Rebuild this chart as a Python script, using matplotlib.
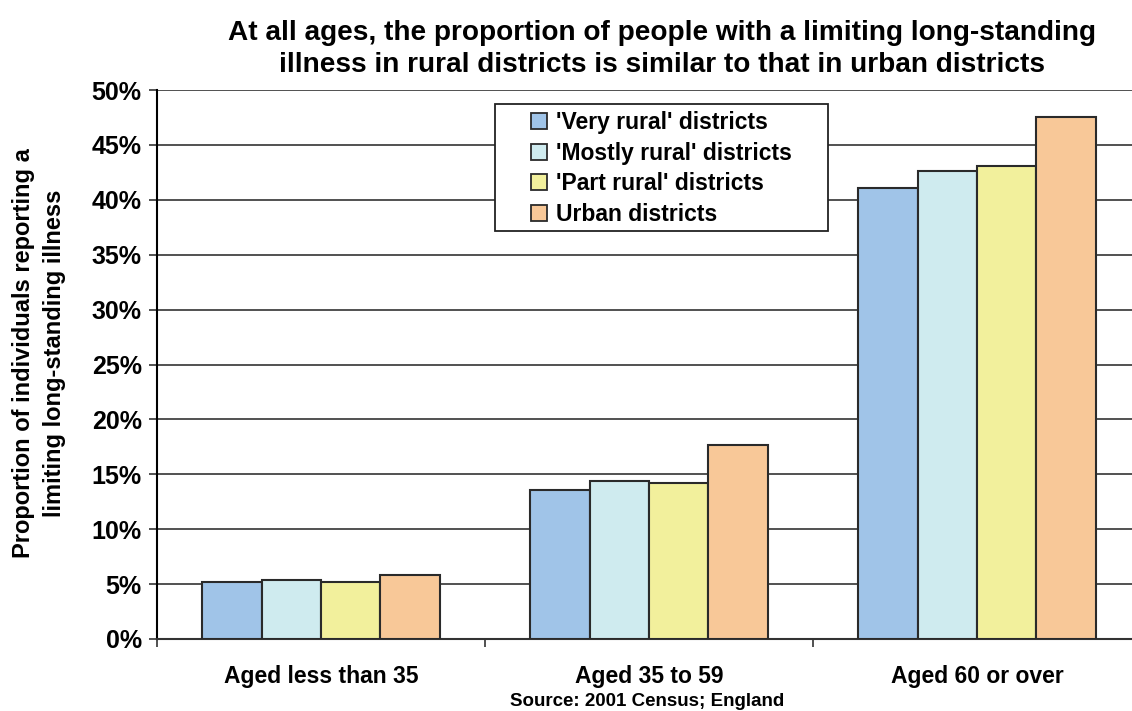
import matplotlib
matplotlib.use("Agg")
import matplotlib.pyplot as plt
from matplotlib.patches import Rectangle
import numpy as np

categories = ["Aged less than 35", "Aged 35 to 59", "Aged 60 or over"]
series_names = ["'Very rural' districts", "'Mostly rural' districts",
                "'Part rural' districts", "Urban districts"]
very_rural = [5.2, 13.6, 41.1]
mostly_rural = [5.4, 14.4, 42.6]
part_rural = [5.2, 14.2, 43.1]
urban = [5.8, 17.65, 47.5]
yticks = [0, 5, 10, 15, 20, 25, 30, 35, 40, 45, 50]
ytick_labels = [f"{v}%" for v in yticks]
colors = ["#A0C4E8", "#CFEBEF", "#F2F09C", "#F8C898"]

plt.rcParams['font.family'] = ['Liberation Sans', 'DejaVu Sans']
W, H = 1132, 711
fig = plt.figure(figsize=(W/100, H/100), dpi=100)
left, right, top, bottom = 157, 1141, 90, 639
ax = fig.add_axes([left/W, 1-bottom/H, (right-left)/W, (bottom-top)/H])

x = np.arange(len(categories))
bw = 0.181
data = [very_rural, mostly_rural, part_rural, urban]
for i, (vals, name, c) in enumerate(zip(data, series_names, colors)):
    ax.bar(x + (i-1.5)*bw, vals, bw, color=c, edgecolor="#2a2a2a",
           linewidth=1.5, label=name, zorder=3)

ax.set_xlim(-0.5, 2.5)
ax.set_ylim(0, 50)
ax.set_yticks(yticks)
ax.set_yticklabels(ytick_labels, fontsize=18, fontweight='bold')
ax.yaxis.grid(True, color="#333333", linewidth=1.2, zorder=0)
ax.set_axisbelow(True)
ax.set_xticks([-0.5, 0.5, 1.5, 2.5])
ax.set_xticklabels([])
ax.set_xticks(x, minor=True)
ax.set_xticklabels(categories, minor=True, fontsize=16.5, fontweight='bold')
ax.tick_params(axis='x', which='minor', length=0, pad=19)
ax.tick_params(axis='x', which='major', length=6, width=1.2, direction='out', color="#333333")
ax.tick_params(axis='y', length=6, width=1.2, direction='out', color="#333333", pad=5)
for s in ['top', 'right']:
    ax.spines[s].set_visible(False)
ax.spines['left'].set_linewidth(1.5)
ax.spines['bottom'].set_linewidth(1.5)
ax.spines['bottom'].set_color("#333333")

fig.text(39/W, 1-353/H, "Proportion of individuals reporting a\nlimiting long-standing illness",
         rotation=90, ha='center', va='center', fontsize=17, fontweight='bold', linespacing=1.4)

# legend frame drawn separately to match the wide horizontal padding
frame = Rectangle((495/W, 1-231/H), (828-495)/W, (231-104)/H,
                  transform=fig.transFigure, facecolor='white',
                  edgecolor='#222222', linewidth=1.3, zorder=5, clip_on=False)
ax.add_patch(frame)
leg = ax.legend(loc='upper left', bbox_to_anchor=(531/W, 1-111/H),
                bbox_transform=fig.transFigure,
                prop={'weight': 'bold', 'size': 16.5}, frameon=False,
                handlelength=0.7, handleheight=0.7, handletextpad=0.4,
                labelspacing=0.33, borderpad=0, borderaxespad=0)
leg.set_zorder(6)
for p in leg.get_patches():
    p.set_linewidth(1.3)

fig.text(662/W, 1-49/H, "At all ages, the proportion of people with a limiting long-standing\nillness in rural districts is similar to that in urban districts",
         ha='center', va='center', fontsize=20.2, fontweight='bold', linespacing=1.25)
fig.text(647/W, 1-701/H, "Source: 2001 Census; England", ha='center', va='center',
         fontsize=13.5, fontweight='bold')

fig.savefig("out.png", dpi=100, facecolor='white')
